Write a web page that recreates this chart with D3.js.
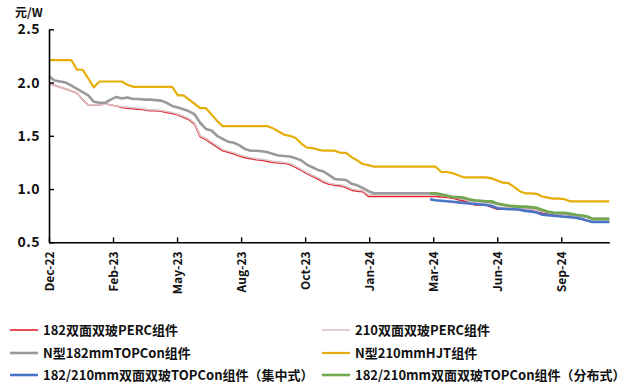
<!DOCTYPE html>
<html>
<head>
<meta charset="utf-8">
<script src="https://cdn.jsdelivr.net/npm/d3@7"></script>
<style>
  html, body { margin: 0; padding: 0; background: #fff; }
  svg { display: block; }
  text { font-family: "Noto Sans CJK SC", "Noto Sans", sans-serif; }
</style>
</head>
<body>
<svg id="chart" width="638" height="389"></svg>
<script>
// Weekly module price quotes (元/W), first week 2022-12-07
const firstWeek = "2022-12-07";

const perc182 = [
  1.99,1.975,1.955,1.94,1.92,1.90,1.84,1.79,1.79,1.79,
  1.80,1.79,1.78,1.765,1.76,1.755,1.75,1.745,1.735,1.735,
  1.73,1.72,1.71,1.695,1.675,1.65,1.61,1.49,1.465,1.43,
  1.395,1.36,1.345,1.33,1.31,1.295,1.285,1.275,1.27,1.26,
  1.25,1.245,1.242,1.23,1.205,1.175,1.145,1.12,1.095,1.065,
  1.045,1.035,1.03,1.015,0.99,0.98,0.975,0.93,0.93,0.93,
  0.93,0.93,0.93,0.93,0.93,0.93,0.93,0.93,0.93,0.93,
  0.925,0.92,0.915,0.90,0.89,0.87,0.85,0.85,0.85,0.83,
  0.81,0.81,0.81,0.81,0.805,0.80,0.795,0.79,0.775,0.765,
  0.755,0.75,0.74,0.735,0.73,0.72,0.705,0.69,0.69,0.69,
  0.69
];

const perc210 = [
  1.99,1.975,1.955,1.94,1.92,1.90,1.84,1.79,1.79,1.79,
  1.80,1.79,1.78,1.773,1.768,1.763,1.758,1.753,1.743,1.743,
  1.738,1.728,1.718,1.703,1.683,1.66,1.62,1.50,1.475,1.44,
  1.405,1.37,1.355,1.34,1.32,1.305,1.295,1.285,1.28,1.27,
  1.26,1.255,1.25,1.24,1.215,1.185,1.155,1.13,1.105,1.075,
  1.055,1.045,1.04,1.025,1.0,0.99,0.985,0.945,0.945,0.945,
  0.945,0.945,0.945,0.945,0.945,0.945,0.945,0.945,0.945,0.945,
  0.94,0.93,0.925,0.915,0.905,0.89,0.87,0.865,0.865,0.85,
  0.83,0.825,0.825,0.82,0.82,0.815,0.81,0.80,0.79,0.78,
  0.77,0.765,0.76,0.755,0.75,0.745,0.735,0.71,0.71,0.71,
  0.71
];

const topcon182 = [
  2.06,2.02,2.01,2.00,1.97,1.94,1.91,1.88,1.82,1.81,
  1.81,1.84,1.865,1.85,1.86,1.845,1.845,1.84,1.84,1.835,
  1.83,1.81,1.78,1.765,1.75,1.73,1.70,1.62,1.565,1.55,
  1.50,1.47,1.445,1.435,1.41,1.375,1.36,1.36,1.355,1.345,
  1.33,1.315,1.31,1.305,1.29,1.27,1.23,1.205,1.18,1.165,
  1.13,1.095,1.09,1.085,1.05,1.035,1.01,0.98,0.96,0.96,
  0.96,0.96,0.96,0.96,0.96,0.96,0.96,0.96,0.96,0.955,
  0.945,0.935,0.925,0.92,0.915,0.90,0.89,0.885,0.88,0.875,
  0.86,0.85,0.84,0.835,0.83,0.83,0.825,0.82,0.80,0.785,
  0.775,0.77,0.77,0.76,0.755,0.75,0.74,0.72,0.72,0.72,
  0.72
];

const hjt210 = [
  2.21,2.21,2.21,2.21,2.21,2.12,2.12,2.04,1.955,2.01,
  2.01,2.01,2.01,2.01,1.98,1.96,1.96,1.96,1.96,1.96,
  1.96,1.96,1.96,1.88,1.88,1.84,1.80,1.76,1.76,1.70,
  1.64,1.59,1.59,1.59,1.59,1.59,1.59,1.59,1.59,1.59,
  1.57,1.54,1.51,1.50,1.48,1.43,1.39,1.385,1.37,1.36,
  1.36,1.36,1.34,1.34,1.30,1.27,1.235,1.225,1.21,1.21,
  1.21,1.21,1.21,1.21,1.21,1.21,1.21,1.21,1.21,1.21,
  1.16,1.16,1.15,1.13,1.11,1.11,1.11,1.11,1.11,1.10,
  1.08,1.06,1.055,1.02,0.98,0.96,0.96,0.955,0.93,0.92,
  0.91,0.91,0.905,0.885,0.885,0.885,0.885,0.885,0.885,0.885,
  0.885
];

// TOPCon 182/210mm quotes start in March 2024 (null = no quote)
const topconCentral = [
  null,null,null,null,null,null,null,null,null,null,
  null,null,null,null,null,null,null,null,null,null,
  null,null,null,null,null,null,null,null,null,null,
  null,null,null,null,null,null,null,null,null,null,
  null,null,null,null,null,null,null,null,null,null,
  null,null,null,null,null,null,null,null,null,null,
  null,null,null,null,null,null,null,null,0.905,0.895,
  0.89,0.885,0.88,0.875,0.87,0.865,0.86,0.855,0.85,0.84,
  0.82,0.815,0.81,0.81,0.805,0.795,0.79,0.78,0.76,0.755,
  0.75,0.745,0.74,0.735,0.73,0.72,0.705,0.69,0.69,0.69,
  0.69
];

const topconDistributed = [
  null,null,null,null,null,null,null,null,null,null,
  null,null,null,null,null,null,null,null,null,null,
  null,null,null,null,null,null,null,null,null,null,
  null,null,null,null,null,null,null,null,null,null,
  null,null,null,null,null,null,null,null,null,null,
  null,null,null,null,null,null,null,null,null,null,
  null,null,null,null,null,null,null,null,0.96,0.96,
  0.95,0.94,0.925,0.925,0.92,0.905,0.895,0.89,0.885,0.885,
  0.865,0.855,0.845,0.84,0.835,0.835,0.83,0.825,0.805,0.79,
  0.78,0.778,0.778,0.77,0.758,0.752,0.745,0.72,0.72,0.72,
  0.72
];

const seriesNames = [
  "182双面双玻PERC组件",
  "210双面双玻PERC组件",
  "N型182mmTOPCon组件",
  "N型210mmHJT组件",
  "182/210mm双面双玻TOPCon组件（集中式）",
  "182/210mm双面双玻TOPCon组件（分布式）"
];
const seriesColors = ["#e2222b", "#dcc4c8", "#9a9a9a", "#e5ad06", "#4a74c6", "#72a94e"];
const seriesWidths = [1.6, 1.6, 2.6, 2.2, 2.6, 2.6];
const seriesValues = [perc182, perc210, topcon182, hjt210, topconCentral, topconDistributed];

const xTickDates = ["2022-12-07","2023-02-25","2023-05-16","2023-08-04","2023-10-23",
                    "2024-01-11","2024-03-31","2024-06-19","2024-09-07"];
const xTickLabels = ["Dec-22","Feb-23","May-23","Aug-23","Oct-23","Jan-24","Mar-24","Jun-24","Sep-24"];
const yTicks = [0.5, 1.0, 1.5, 2.0, 2.5];
const unitLabel = "元/W";

// ---- drawing ----
const parse = d3.utcParse("%Y-%m-%d");
const start = parse(firstWeek);
const weeks = d3.range(perc182.length).map(i => d3.utcDay.offset(start, 7 * i));

const svg = d3.select("#chart");
const plot = { left: 49, right: 609.3, top: 29.3, bottom: 242.3 };

const x = d3.scaleUtc().domain([weeks[0], weeks[weeks.length - 1]]).range([plot.left, plot.right]);
const y = d3.scaleLinear().domain([0.5, 2.5]).range([plot.bottom, plot.top]);

const line = d3.line()
  .defined(d => d.v != null)
  .x(d => x(d.t))
  .y(d => y(d.v));

seriesValues.forEach((vals, k) => {
  svg.append("path")
    .datum(vals.map((v, i) => ({ t: weeks[i], v })))
    .attr("fill", "none")
    .attr("stroke", seriesColors[k])
    .attr("stroke-width", seriesWidths[k])
    .attr("stroke-linejoin", "round")
    .attr("d", line);
});

// y axis
const yAxis = svg.append("g")
  .attr("transform", `translate(${plot.left},0)`)
  .call(d3.axisLeft(y).tickValues(yTicks).tickSize(-5).tickSizeOuter(0).tickPadding(9)
    .tickFormat(d3.format(".1f")));
yAxis.selectAll("text")
  .attr("font-size", 14).attr("font-weight", "bold").attr("fill", "#111")
  .attr("letter-spacing", "0.5px");

// x axis
const xAxis = svg.append("g")
  .attr("transform", `translate(0,${plot.bottom})`)
  .call(d3.axisBottom(x).tickValues(xTickDates.map(parse)).tickSize(-5).tickSizeOuter(0)
    .tickFormat((d, i) => xTickLabels[i]));
xAxis.selectAll("text")
  .attr("font-size", 12).attr("font-weight", "bold").attr("fill", "#111")
  .attr("transform", "rotate(-90)")
  .attr("text-anchor", "end")
  .attr("x", -9).attr("y", 0).attr("dy", "0.36em");

[yAxis, xAxis].forEach(g => {
  g.select(".domain").attr("stroke", "#000").attr("stroke-width", 1.6);
  g.selectAll(".tick line").attr("stroke", "#000").attr("stroke-width", 1.4);
});

svg.append("text")
  .attr("x", 15).attr("y", 17)
  .attr("font-size", 12).attr("font-weight", "bold").attr("fill", "#111")
  .text(unitLabel);

// legend: three rows, two columns
const legendCols = [10, 322];
const legendRows = [330, 353, 375];
const legendOrder = [0, 1, 2, 3, 4, 5];
legendOrder.forEach((k, n) => {
  const col = n % 2, row = Math.floor(n / 2);
  const g = svg.append("g")
    .attr("transform", `translate(${legendCols[col]},${legendRows[row]})`);
  g.append("line")
    .attr("x1", 0).attr("x2", 28).attr("y1", 0).attr("y2", 0)
    .attr("stroke", seriesColors[k]).attr("stroke-width", seriesWidths[k]);
  g.append("text")
    .attr("x", 33).attr("y", 0).attr("dy", "0.36em")
    .attr("font-size", 13).attr("font-weight", "bold").attr("fill", "#111")
    .text(seriesNames[k]);
});
</script>
</body>
</html>
